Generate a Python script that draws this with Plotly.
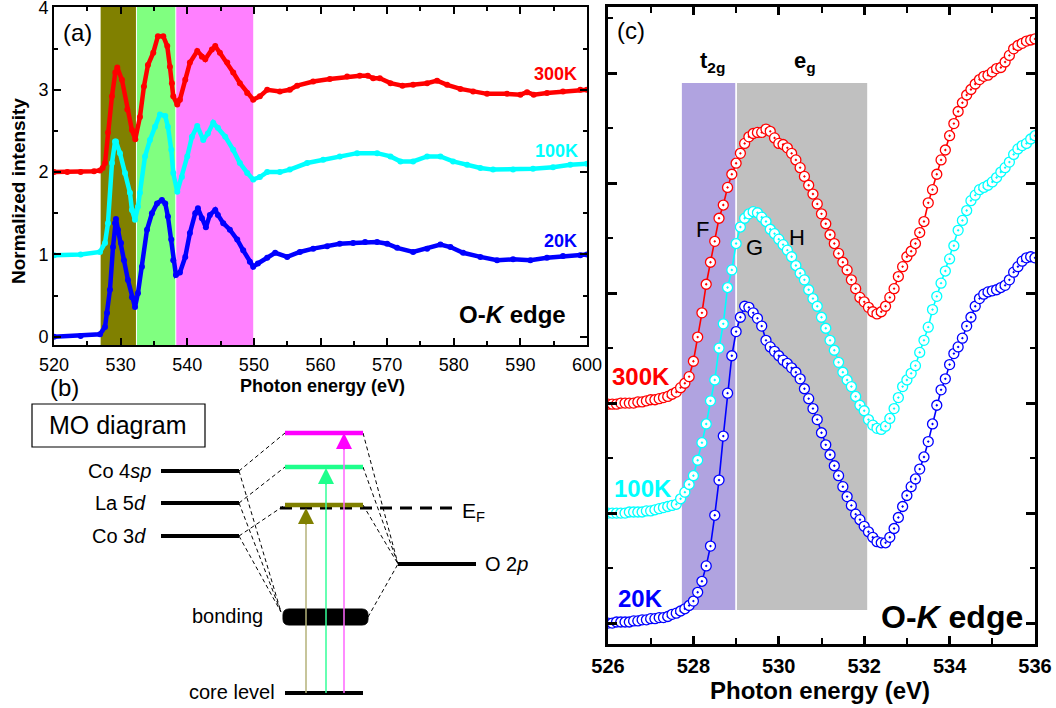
import numpy as np
import plotly.graph_objects as go

W, H = 1056, 708
FONT = "Liberation Sans"

# ---------------- panel (a): O-K edge XAS, offset spectra ----------------
a_e_300 = [520.0, 522.0, 524.0, 526.0, 526.9, 527.3, 527.66, 528.1, 528.7, 529.2, 529.5, 530.2, 531.0, 531.7,
           532.2, 532.9, 533.5, 534.1, 534.9, 535.6, 536.4, 537.0, 537.4, 537.7, 537.9, 538.5, 538.9, 539.7,
           540.4, 541.5, 542.2, 542.7, 543.7, 544.2, 544.9, 546.0, 546.9, 547.9, 549.0, 549.9, 550.9, 552.0,
           553.9, 555.4, 556.5, 558.9, 561.4, 564.0, 565.9, 567.1, 567.9, 568.9, 570.5, 572.3, 573.9, 576.0,
           577.5, 579.0, 581.0, 582.9, 585.0, 588.0, 590.0, 591.0, 592.0, 594.0, 596.4, 599.0, 600.0]
a_i_300 = [2.00, 2.00, 2.00, 2.01, 2.02, 2.05, 2.11, 2.48, 2.92, 3.21, 3.27, 3.12, 2.76, 2.51,
           2.40, 2.67, 3.04, 3.30, 3.45, 3.65, 3.65, 3.53, 3.28, 3.08, 2.92, 2.82, 2.88, 3.12,
           3.33, 3.47, 3.40, 3.37, 3.49, 3.53, 3.45, 3.33, 3.21, 3.08, 2.96, 2.88, 2.92, 3.00,
           2.98, 3.00, 3.05, 3.10, 3.13, 3.16, 3.17, 3.17, 3.14, 3.14, 3.08, 3.05, 3.06, 3.08,
           3.11, 3.06, 3.01, 2.98, 2.95, 2.95, 2.94, 2.97, 2.94, 2.96, 2.98, 3.00, 3.00]

a_e_100 = [520.0, 524.0, 526.9, 527.66, 528.1, 528.7, 529.16, 529.3, 529.9, 530.66, 531.4, 531.7, 532.16, 532.6,
           532.9, 533.66, 534.4, 535.16, 535.9, 536.7, 537.1, 537.6, 537.9, 538.5, 539.2, 540.0, 540.7, 541.5,
           542.4, 543.1, 543.9, 544.6, 545.7, 546.9, 547.9, 549.0, 549.9, 550.9, 552.0, 553.9, 555.4, 558.0,
           560.4, 562.9, 565.5, 568.5, 570.5, 572.0, 573.9, 576.0, 578.0, 579.9, 582.0, 584.0, 585.9, 588.9,
           591.9, 594.9, 597.5, 600.0]
a_i_100 = [0.99, 1.00, 1.03, 1.14, 1.38, 2.11, 2.37, 2.37, 2.23, 1.99, 1.75, 1.54, 1.42, 1.58,
           1.75, 2.19, 2.39, 2.55, 2.70, 2.68, 2.55, 2.27, 1.99, 1.76, 1.94, 2.19, 2.43, 2.56,
           2.39, 2.47, 2.60, 2.54, 2.43, 2.27, 2.11, 1.99, 1.91, 1.94, 2.00, 2.00, 2.03, 2.11,
           2.15, 2.19, 2.23, 2.23, 2.19, 2.13, 2.13, 2.19, 2.19, 2.13, 2.09, 2.05, 2.03, 2.03,
           2.04, 2.06, 2.09, 2.10]

a_e_20 = [520.0, 524.0, 526.9, 527.66, 527.96, 528.4, 528.86, 529.16, 529.3, 529.6, 530.06, 530.5, 531.1, 531.7,
          532.16, 532.6, 533.2, 533.96, 534.7, 535.47, 536.2, 536.7, 537.1, 537.6, 537.9, 538.3, 538.9, 539.7,
          540.4, 541.2, 541.6, 542.2, 542.8, 543.4, 544.2, 544.6, 545.4, 546.4, 547.5, 548.4, 549.4, 549.9,
          550.6, 552.0, 553.2, 555.0, 556.9, 558.9, 561.0, 562.9, 564.9, 566.7, 568.5, 570.0, 571.5, 573.9,
          576.0, 578.0, 579.5, 581.4, 584.0, 586.5, 588.9, 591.5, 594.0, 596.4, 599.0, 600.0]
a_i_20 = [0.00, 0.01, 0.03, 0.12, 0.29, 0.57, 1.09, 1.38, 1.43, 1.30, 1.14, 0.93, 0.69, 0.48,
          0.36, 0.53, 0.85, 1.30, 1.50, 1.62, 1.66, 1.62, 1.46, 1.18, 0.93, 0.75, 0.78, 0.97,
          1.26, 1.50, 1.56, 1.44, 1.33, 1.48, 1.54, 1.48, 1.38, 1.30, 1.18, 1.05, 0.91, 0.85,
          0.89, 0.96, 1.02, 0.97, 1.03, 1.07, 1.10, 1.13, 1.14, 1.15, 1.15, 1.13, 1.08, 1.03,
          1.07, 1.12, 1.09, 1.02, 0.97, 0.93, 0.94, 0.93, 0.96, 0.98, 0.99, 1.00]

a_bands = [(527.0, 532.3, "#808000"), (532.45, 538.2, "#80FF80"), (538.35, 549.9, "#FF80FF")]
a_xticks = [520, 530, 540, 550, 560, 570, 580, 590, 600]
a_yticks = [0, 1, 2, 3, 4]

# ---------------- panel (c): pre-edge zoom ----------------
c_energy = np.round(np.arange(526.0, 536.05, 0.1), 1)
c_300 = [1.99, 1.99, 1.99, 2.00, 2.00, 2.00, 2.00, 2.01, 2.01, 2.02,
         2.03, 2.03, 2.04, 2.05, 2.06, 2.08, 2.10, 2.14, 2.18, 2.24,
         2.38, 2.60, 2.82, 3.08, 3.28, 3.47, 3.68, 3.80, 3.96, 4.08,
         4.18, 4.27, 4.36, 4.42, 4.45, 4.46, 4.46, 4.49, 4.47, 4.41,
         4.36, 4.35, 4.32, 4.27, 4.21, 4.14, 4.06, 3.98, 3.90, 3.81,
         3.72, 3.63, 3.53, 3.45, 3.36, 3.28, 3.21, 3.12, 3.04, 2.96,
         2.92, 2.87, 2.83, 2.81, 2.83, 2.88, 2.96, 3.04, 3.15, 3.24,
         3.33, 3.38, 3.45, 3.55, 3.65, 3.82, 3.94, 4.08, 4.21, 4.30,
         4.43, 4.54, 4.65, 4.73, 4.80, 4.85, 4.90, 4.94, 4.97, 4.98,
         5.01, 5.04, 5.05, 5.10, 5.16, 5.22, 5.25, 5.27, 5.29, 5.30,
         5.31]
c_100 = [1.00, 1.00, 1.00, 1.00, 1.00, 1.01, 1.01, 1.01, 1.01, 1.02,
         1.02, 1.03, 1.04, 1.05, 1.06, 1.07, 1.08, 1.13, 1.19, 1.26,
         1.34, 1.48, 1.64, 1.81, 2.02, 2.21, 2.50, 2.72, 3.05, 3.21,
         3.45, 3.60, 3.68, 3.72, 3.74, 3.73, 3.69, 3.65, 3.58, 3.54,
         3.49, 3.44, 3.39, 3.33, 3.25, 3.18, 3.12, 3.03, 2.95, 2.88,
         2.78, 2.68, 2.57, 2.48, 2.37, 2.28, 2.21, 2.15, 2.06, 1.98,
         1.93, 1.85, 1.80, 1.77, 1.76, 1.79, 1.86, 1.95, 2.05, 2.15,
         2.21, 2.27, 2.34, 2.46, 2.57, 2.69, 2.85, 2.97, 3.09, 3.20,
         3.31, 3.43, 3.57, 3.66, 3.75, 3.84, 3.89, 3.94, 3.96, 3.98,
         4.01, 4.05, 4.10, 4.14, 4.19, 4.26, 4.31, 4.34, 4.36, 4.40,
         4.43]
c_20 = [0.00, 0.00, 0.01, 0.01, 0.01, 0.01, 0.02, 0.02, 0.03, 0.03,
        0.04, 0.04, 0.05, 0.05, 0.06, 0.08, 0.09, 0.11, 0.13, 0.16,
        0.20, 0.28, 0.38, 0.52, 0.70, 0.98, 1.30, 1.70, 2.09, 2.43,
        2.65, 2.78, 2.88, 2.87, 2.82, 2.77, 2.70, 2.57, 2.51, 2.47,
        2.43, 2.39, 2.36, 2.32, 2.28, 2.22, 2.13, 2.04, 1.95, 1.85,
        1.73, 1.62, 1.53, 1.43, 1.34, 1.24, 1.15, 1.07, 0.99, 0.94,
        0.88, 0.83, 0.78, 0.74, 0.73, 0.73, 0.78, 0.86, 0.96, 1.06,
        1.16, 1.24, 1.31, 1.40, 1.51, 1.65, 1.81, 1.98, 2.12, 2.22,
        2.35, 2.45, 2.51, 2.59, 2.70, 2.78, 2.88, 2.95, 2.99, 3.01,
        3.02, 3.03, 3.05, 3.07, 3.12, 3.19, 3.24, 3.29, 3.32, 3.33,
        3.32]
c_bands = [(527.73, 528.98, "#B0A3E0"), (529.02, 532.07, "#C0C0C0")]
c_band_y = (0.12, 4.91)
c_xticks = [526, 528, 530, 532, 534, 536]

temps = ["300K", "100K", "20K"]
colors = ["#FF0000", "#00FFFF", "#0000FF"]

# ---------------- panel (b): MO diagram geometry (page pixels) ----------------
mo_left = [("Co 4<i>sp</i>", 471, 153), ("La 5<i>d</i>", 503, 148), ("Co 3<i>d</i>", 536, 148)]
mo_left_x = (161, 239)
mo_upper = [(433, "#FF00FF"), (467, "#1EFF8C"), (505, "#808000")]
mo_upper_x = (285, 363)
mo_ef_y, mo_ef_x = 508, (280, 455)
mo_o2p_y, mo_o2p_x = 564, (398, 476)
mo_bond = (283, 368, 609, 625)
mo_core_y = 693
mo_arrows = [(306, 508, "#B5B27A", "#808000"), (326, 468, "#33FF99", "#1EFF8C"), (344, 433, "#FF66FF", "#FF00FF")]


def PX(x):
    return x / W


def PY(y):
    return 1 - y / H


fig = go.Figure()

for e, v, c, n in [(a_e_300, a_i_300, colors[0], temps[0]), (a_e_100, a_i_100, colors[1], temps[1]),
                   (a_e_20, a_i_20, colors[2], temps[2])]:
    fig.add_trace(go.Scatter(x=e, y=v, mode="lines+markers", name=n, xaxis="x", yaxis="y",
                             line=dict(color=c, width=4.5), marker=dict(color=c, size=6),
                             showlegend=False))

for v, c, n in [(c_300, colors[0], temps[0]), (c_100, colors[1], temps[1]), (c_20, colors[2], temps[2])]:
    fig.add_trace(go.Scatter(x=c_energy, y=v, mode="lines+markers", name=n, xaxis="x2", yaxis="y2",
                             line=dict(color=c, width=1.6),
                             marker=dict(symbol="circle-dot", size=10, color="white",
                                         line=dict(color=c, width=1.3)),
                             showlegend=False))

shapes = []
for x0, x1, col in a_bands:
    shapes.append(dict(type="rect", xref="x", yref="y domain", x0=x0, x1=x1, y0=0, y1=1,
                       fillcolor=col, line=dict(width=0), layer="below"))
for x0, x1, col in c_bands:
    shapes.append(dict(type="rect", xref="x2", yref="y2", x0=x0, x1=x1, y0=c_band_y[0], y1=c_band_y[1],
                       fillcolor=col, line=dict(width=0), layer="below"))


def pline(x0, y0, x1, y1, color="black", width=1.0, dash="solid"):
    shapes.append(dict(type="line", xref="paper", yref="paper", x0=PX(x0), y0=PY(y0), x1=PX(x1), y1=PY(y1),
                       line=dict(color=color, width=width, dash=dash)))


# MO box
shapes.append(dict(type="rect", xref="paper", yref="paper", x0=PX(32), x1=PX(205), y0=PY(447), y1=PY(404),
                   line=dict(color="black", width=1.2), fillcolor="white"))
# dashed correlation lines
for _, y, _ in mo_left:
    pline(mo_left_x[1], y, mo_bond[0] - 2, mo_bond[2] + 3, width=1, dash="4px,3px")
for (_, y, _), (yu, _) in zip(mo_left, mo_upper):
    pline(mo_left_x[1], y, mo_upper_x[0], yu, width=1, dash="4px,3px")
for yu, _ in mo_upper:
    pline(mo_upper_x[1], yu, mo_o2p_x[0], mo_o2p_y, width=1, dash="4px,3px")
pline(mo_bond[1], (mo_bond[2] + mo_bond[3]) / 2, mo_o2p_x[0], mo_o2p_y, width=1, dash="4px,3px")
# EF dashed
pline(mo_ef_x[0], mo_ef_y, mo_ef_x[1], mo_ef_y, width=3, dash="12px,8px")
# levels
for _, y, _ in mo_left:
    pline(mo_left_x[0], y, mo_left_x[1], y, width=4)
for yu, col in mo_upper:
    pline(mo_upper_x[0], yu, mo_upper_x[1], yu, color=col, width=4.5)
pline(mo_o2p_x[0], mo_o2p_y, mo_o2p_x[1], mo_o2p_y, width=4)
pline(mo_upper_x[0], mo_core_y, mo_upper_x[1], mo_core_y, width=4)
# bonding band (rounded bar)
bx0, bx1, by0, by1 = mo_bond
r = 6
path = (f"M {PX(bx0 + r)},{PY(by0)} L {PX(bx1 - r)},{PY(by0)} Q {PX(bx1)},{PY(by0)} {PX(bx1)},{PY(by0 + r)} "
        f"L {PX(bx1)},{PY(by1 - r)} Q {PX(bx1)},{PY(by1)} {PX(bx1 - r)},{PY(by1)} "
        f"L {PX(bx0 + r)},{PY(by1)} Q {PX(bx0)},{PY(by1)} {PX(bx0)},{PY(by1 - r)} "
        f"L {PX(bx0)},{PY(by0 + r)} Q {PX(bx0)},{PY(by0)} {PX(bx0 + r)},{PY(by0)} Z")
shapes.append(dict(type="path", xref="paper", yref="paper", path=path, fillcolor="black",
                   line=dict(color="black", width=1)))
# transition arrows (shafts)
for x, ytop, lc, hc in mo_arrows:
    pline(x, mo_core_y, x, ytop + 10, color=lc, width=1.5)

annotations = []


def txt(x, y, text, size, color="black", xanchor="center", yanchor="middle", textangle=0):
    annotations.append(dict(x=PX(x), y=PY(y), xref="paper", yref="paper", text=text, showarrow=False,
                            font=dict(family=FONT, size=size, color=color), xanchor=xanchor,
                            yanchor=yanchor, textangle=textangle))


for x, ytop, lc, hc in mo_arrows:
    annotations.append(dict(x=PX(x), y=PY(ytop), xref="paper", yref="paper", text="", showarrow=True,
                            ax=0, ay=18, arrowhead=2, arrowsize=2.0, arrowwidth=1.6, arrowcolor=hc,
                            standoff=0))

# panel (a) texts
txt(77, 33, "(a)", 24)
txt(555, 74, "<b>300K</b>", 18, colors[0])
txt(556, 151, "<b>100K</b>", 18, colors[1])
txt(560, 241, "<b>20K</b>", 18, colors[2])
txt(512, 315, "<b>O-<i>K</i> edge</b>", 24)
txt(322, 386, "<b>Photon energy (eV)</b>", 18)
txt(18, 191, "<b>Normalized intensity</b>", 19, textangle=-90)
# panel (b) texts
txt(64, 388, "(b)", 24)
txt(118, 425, "MO diagram", 25)
for lab, y, xr in mo_left:
    txt(xr, y, lab, 20, xanchor="right")
txt(265, 616, "bonding", 20, xanchor="right")
txt(277, 692, "core level", 20, xanchor="right")
txt(460, 512, "E<sub>F</sub>", 21, xanchor="left")
txt(483, 564, "O 2<i>p</i>", 20, xanchor="left")
# panel (c) texts
txt(631, 31, "(c)", 24)
txt(712, 62, "<b>t<sub>2g</sub></b>", 22)
txt(805, 62, "<b>e<sub>g</sub></b>", 22)
txt(702, 229, "F", 22)
txt(754, 247, "G", 22)
txt(797, 237, "H", 22)
txt(641, 377, "<b>300K</b>", 24, colors[0])
txt(643, 488, "<b>100K</b>", 24, colors[1])
txt(640, 598, "<b>20K</b>", 24, colors[2])
txt(952, 617, "<b>O-<i>K</i> edge</b>", 32)
txt(820, 690, "<b>Photon energy (eV)</b>", 24)

ax_common = dict(showgrid=False, zeroline=False, showline=True, linecolor="black", ticks="inside",
                 mirror="ticks", tickcolor="black", automargin=False, ticklabeloverflow="allow")

fig.update_layout(
    width=W, height=H, margin=dict(l=0, r=0, t=0, b=0, autoexpand=False),
    paper_bgcolor="white", plot_bgcolor="white",
    font=dict(family=FONT, color="black"),
    xaxis=dict(ax_common, domain=[54 / W, 587 / W], anchor="y", range=[520, 600], linewidth=2,
               tickvals=a_xticks, ticklen=7, tickwidth=2, tickfont=dict(size=18), ticklabelstandoff=2,
               minor=dict(ticks="inside", dtick=5, ticklen=4, tickwidth=1.5, tickcolor="black")),
    yaxis=dict(ax_common, domain=[1 - 345 / H, 1 - 7 / H], anchor="x", range=[-0.1, 4.005], linewidth=2,
               tickvals=a_yticks, ticklen=7, tickwidth=2, tickfont=dict(size=18),
               minor=dict(ticks="inside", dtick=0.5, ticklen=4, tickwidth=1.5, tickcolor="black")),
    xaxis2=dict(ax_common, domain=[608 / W, 1035 / W], anchor="y2", range=[526, 536], linewidth=3,
                tickvals=c_xticks, ticklen=8, tickwidth=2.5, ticklabelstandoff=2,
                tickfont=dict(size=20, weight="bold"),
                minor=dict(ticks="inside", dtick=1, ticklen=6, tickwidth=2, tickcolor="black")),
    yaxis2=dict(ax_common, domain=[1 - 644 / H, 1 - 7 / H], anchor="x2", range=[-0.19, 5.6], linewidth=3,
                dtick=1, tick0=0, ticklen=9, tickwidth=2.5, showticklabels=False,
                minor=dict(ticks="inside", dtick=0.5, ticklen=5, tickwidth=2, tickcolor="black")),
    shapes=shapes, annotations=annotations,
)

fig.write_html("out.html")
